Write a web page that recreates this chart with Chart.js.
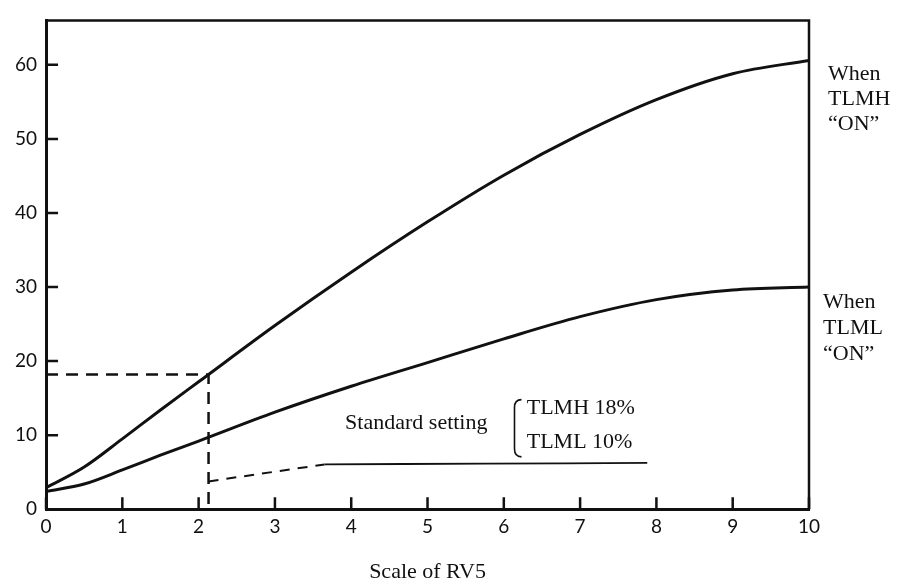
<!DOCTYPE html>
<html>
<head>
<meta charset="utf-8">
<script src="https://cdn.jsdelivr.net/npm/chart.js@4.4.1/dist/chart.umd.min.js"></script>
<style>
  body { margin: 0; background: #fff; }
  #wrap { width: 903px; height: 583px; }
</style>
</head>
<body>
<div id="wrap"><canvas id="rv5Chart"></canvas></div>
<script>
// (scale of RV5 vs %)
const scaleRV5 = [0, 0.5, 1, 1.5, 2, 3, 4, 5, 6, 7, 8, 9, 10];
const tlmhOn = [2.9, 5.7, 9.5, 13.4, 17.2, 24.8, 32.0, 38.8, 45.1, 50.6, 55.3, 58.8, 60.6];
const tlmlOn = [2.4, 3.4, 5.3, 7.3, 9.2, 13.1, 16.6, 19.8, 23.0, 26.0, 28.3, 29.6, 30.0];

// standard setting guide (dashed)
const stdX = [0, 2.13, 2.13];
const stdY = [18.2, 18.2, 0];
// leader line under the "Standard setting" note
const leaderDashX = [2.13, 3.65];
const leaderDashY = [3.75, 6.05];
const leaderX = [3.65, 5.75, 7.88];
const leaderY = [6.05, 6.15, 6.25];

const ink = '#111';
const serif = '"Liberation Serif", "Times New Roman", serif';

function pts(xs, ys) {
  return xs.map((x, i) => ({ x: x, y: ys[i] }));
}

const data = {
  datasets: [
    {
      label: 'When TLMH "ON"',
      data: pts(scaleRV5, tlmhOn),
      borderColor: ink,
      borderWidth: 3,
      cubicInterpolationMode: 'monotone'
    },
    {
      label: 'When TLML "ON"',
      data: pts(scaleRV5, tlmlOn),
      borderColor: ink,
      borderWidth: 3,
      cubicInterpolationMode: 'monotone'
    },
    {
      label: 'Standard setting',
      data: pts(stdX, stdY),
      borderColor: ink,
      borderWidth: 2.5,
      borderDash: [12, 8],
      tension: 0
    },
    {
      label: 'leader dashed',
      data: pts(leaderDashX, leaderDashY),
      borderColor: ink,
      borderWidth: 2,
      borderDash: [10, 8],
      tension: 0
    },
    {
      label: 'leader',
      data: pts(leaderX, leaderY),
      borderColor: ink,
      borderWidth: 1.8,
      tension: 0.3
    }
  ]
};

// box frame, inward tick marks and the notes
const extras = {
  id: 'extras',
  afterDraw(chart) {
    const ctx = chart.ctx;
    const area = chart.chartArea;
    const xs = chart.scales.x;
    const ys = chart.scales.y;
    ctx.save();
    ctx.strokeStyle = ink;
    ctx.fillStyle = ink;

    ctx.lineWidth = 2.5;
    ctx.beginPath();
    ctx.moveTo(area.left, area.top);
    ctx.lineTo(area.right, area.top);
    ctx.lineTo(area.right, area.bottom);
    ctx.stroke();

    ctx.lineWidth = 2.5;
    ctx.beginPath();
    ys.ticks.forEach(t => {
      const py = ys.getPixelForValue(t.value);
      ctx.moveTo(area.left, py);
      ctx.lineTo(area.left + 12, py);
    });
    xs.ticks.forEach(t => {
      const px = xs.getPixelForValue(t.value);
      ctx.moveTo(px, area.bottom);
      ctx.lineTo(px, area.bottom - 12);
    });
    ctx.stroke();

    ctx.font = '22px ' + serif;
    ctx.textAlign = 'left';
    ctx.textBaseline = 'middle';
    ctx.fillText('Standard setting', xs.getPixelForValue(3.92), ys.getPixelForValue(11.6));
    ctx.fillText('TLMH 18%', xs.getPixelForValue(6.30), ys.getPixelForValue(13.6));
    ctx.fillText('TLML 10%', xs.getPixelForValue(6.30), ys.getPixelForValue(9.07));

    // brace
    const bx = xs.getPixelForValue(6.14);
    const bTop = ys.getPixelForValue(14.8);
    const bBot = ys.getPixelForValue(7.07);
    ctx.lineWidth = 1.6;
    ctx.beginPath();
    ctx.moveTo(bx + 7, bTop);
    ctx.quadraticCurveTo(bx, bTop, bx, bTop + 8);
    ctx.lineTo(bx, bBot - 8);
    ctx.quadraticCurveTo(bx, bBot, bx + 7, bBot);
    ctx.stroke();

    // curve end labels
    const hiY = ys.getPixelForValue(tlmhOn[tlmhOn.length - 1]) + 14;
    ['When', 'TLMH', '\u201cON\u201d'].forEach((s, i) => {
      ctx.fillText(s, area.right + 19, hiY + i * 25);
    });
    const loY = ys.getPixelForValue(tlmlOn[tlmlOn.length - 1]) + 15;
    ['When', 'TLML', '\u201cON\u201d'].forEach((s, i) => {
      ctx.fillText(s, area.right + 14, loY + i * 26);
    });
    ctx.restore();
  }
};

const config = {
  type: 'line',
  data: data,
  options: {
    responsive: true,
    maintainAspectRatio: false,
    animation: false,
    layout: {
      padding: { left: 6, right: 94, top: 19, bottom: 0 }
    },
    elements: {
      point: { radius: 0 }
    },
    plugins: {
      legend: { display: false },
      tooltip: { enabled: false }
    },
    scales: {
      x: {
        type: 'linear',
        min: 0,
        max: 10,
        grid: { drawOnChartArea: false, drawTicks: false },
        border: { display: true, color: ink, width: 3 },
        ticks: {
          stepSize: 1,
          padding: 6,
          color: ink,
          font: { family: 'Lato', size: 19 }
        },
        title: {
          display: true,
          text: 'Scale of RV5',
          color: ink,
          font: { family: serif, size: 22, lineHeight: 1 },
          padding: { top: 17, bottom: 0 }
        }
      },
      y: {
        min: 0,
        max: 66,
        grid: { drawOnChartArea: false, drawTicks: false },
        border: { display: true, color: ink, width: 3 },
        afterBuildTicks: s => {
          s.ticks = s.ticks.filter(t => t.value % 10 === 0);
        },
        ticks: {
          stepSize: 10,
          padding: 9,
          color: ink,
          font: { family: 'Lato', size: 19 }
        }
      }
    }
  },
  plugins: [extras]
};

const ctx = document.getElementById('rv5Chart').getContext('2d');
new Chart(ctx, config);
</script>
</body>
</html>
